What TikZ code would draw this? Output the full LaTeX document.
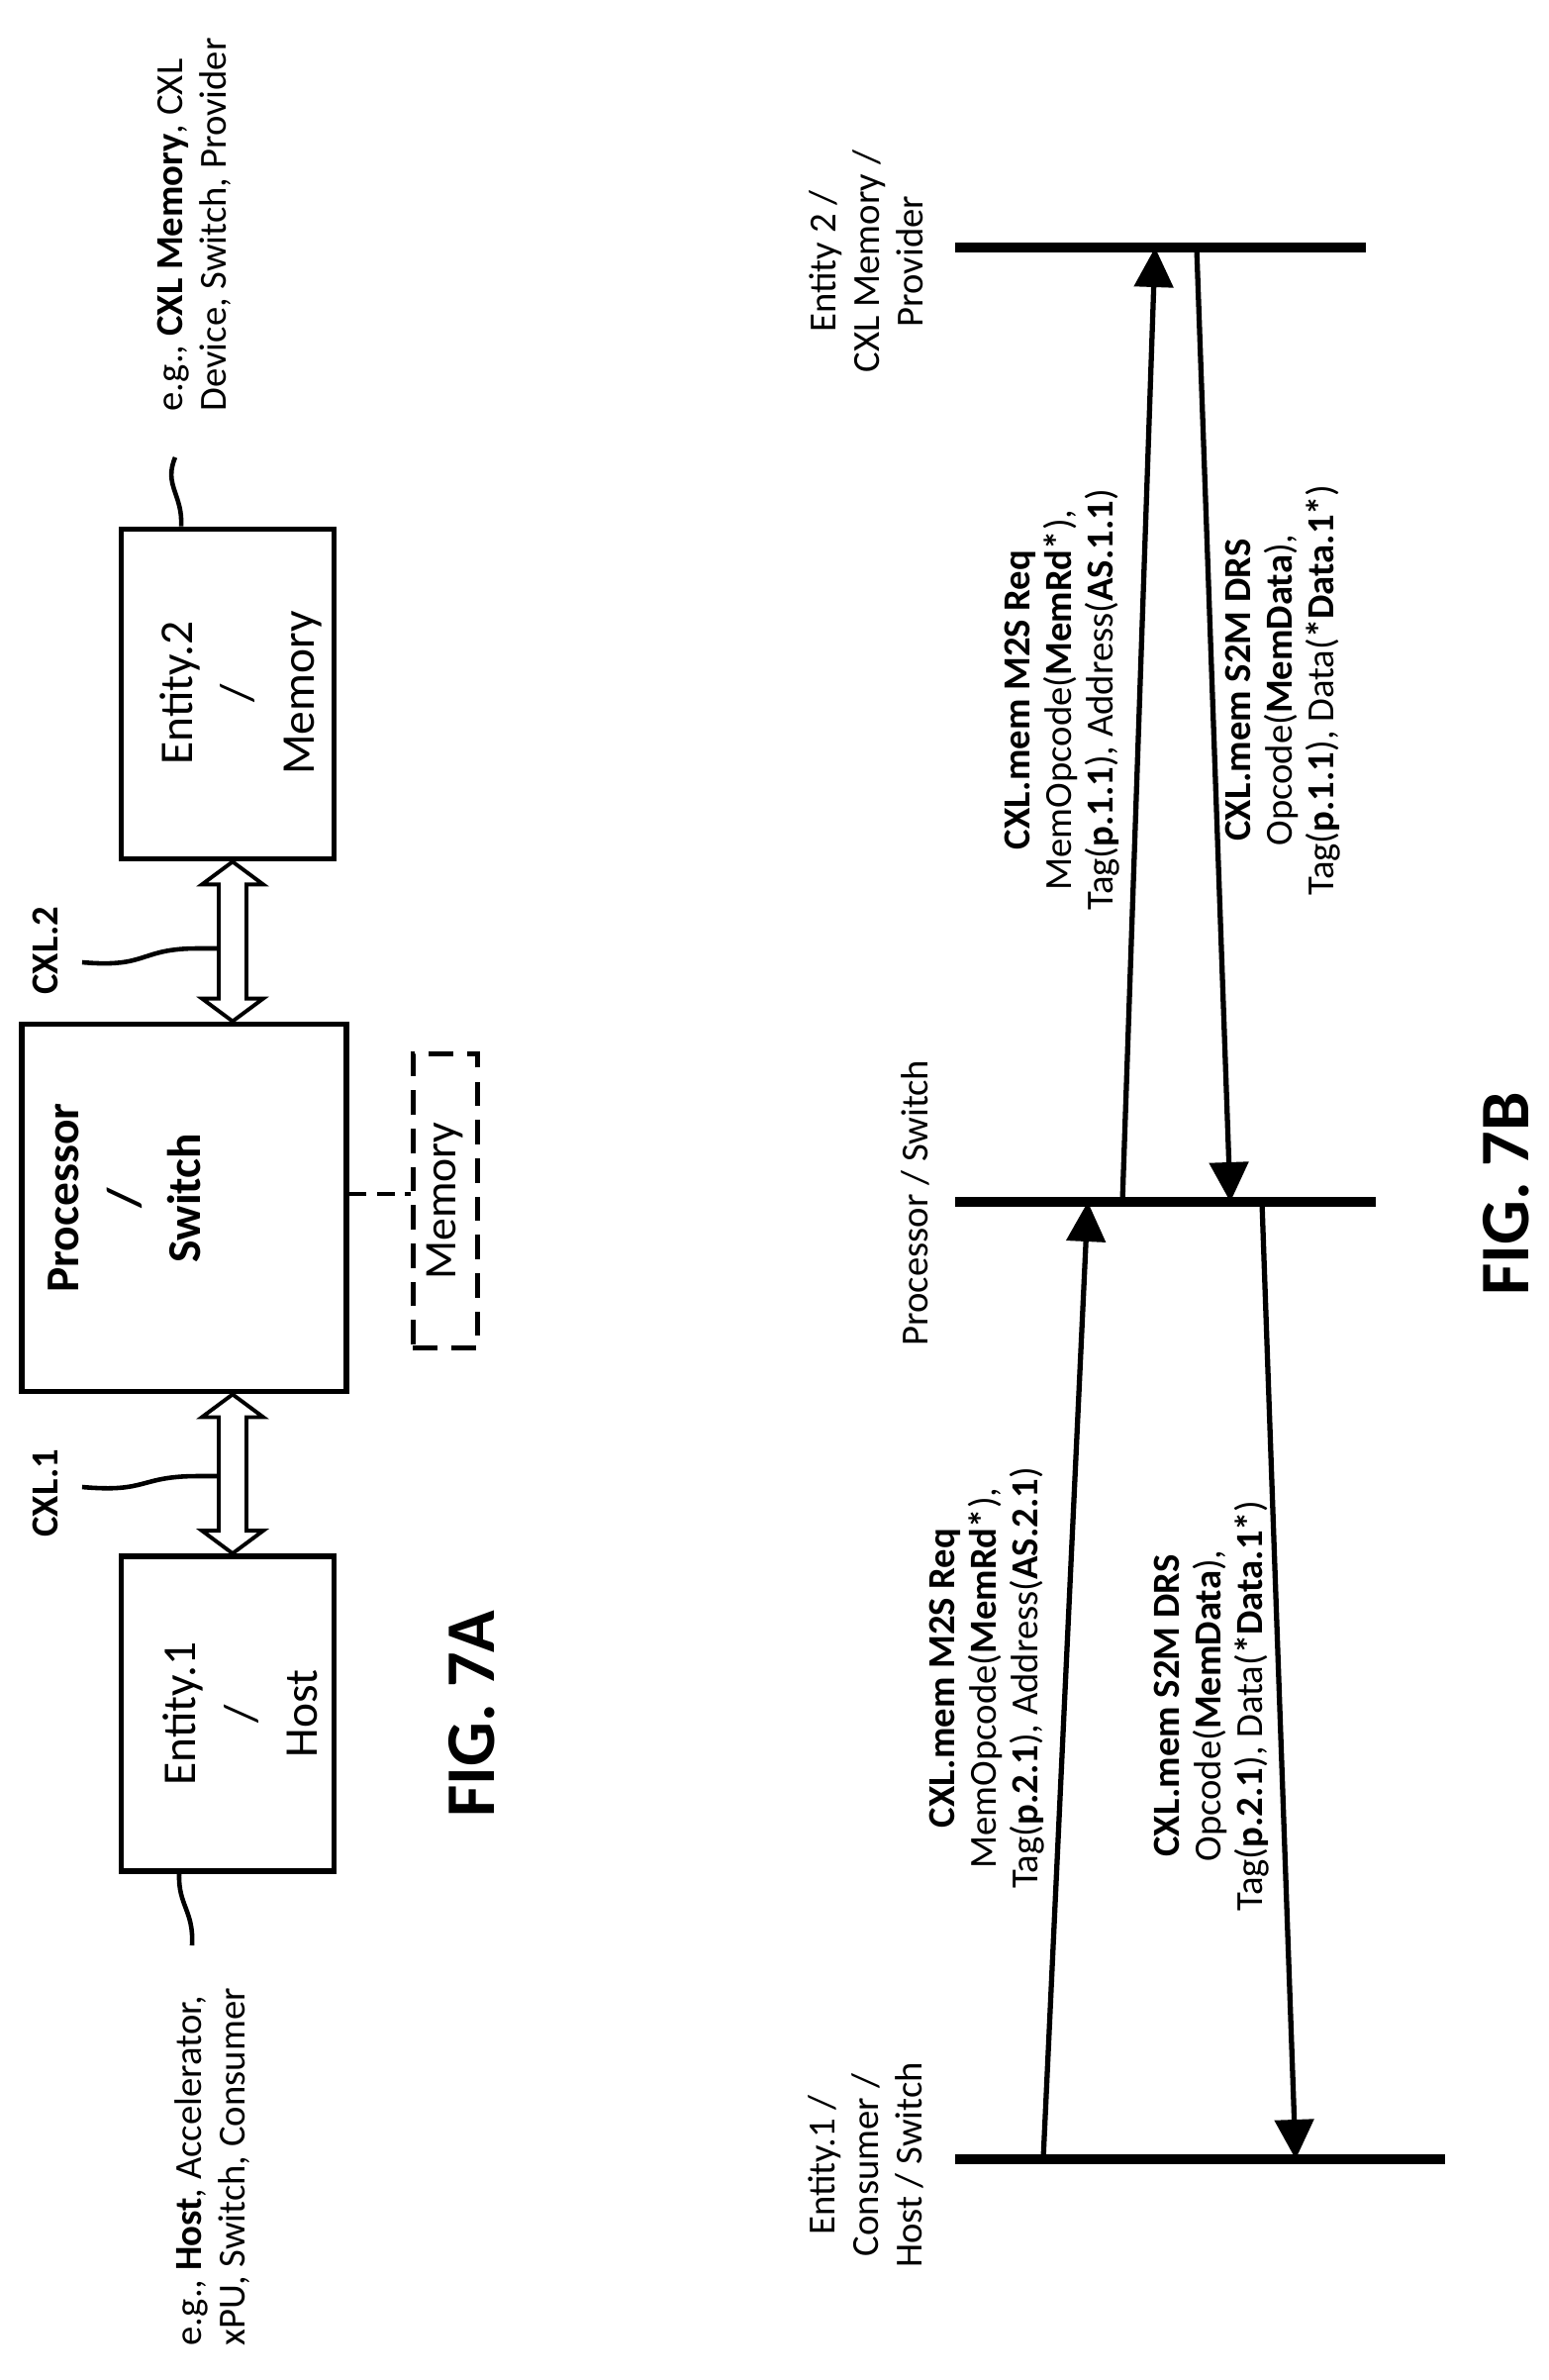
\documentclass[tikz,border=0pt]{standalone}
\usepackage{fontspec}
\setmainfont{Carlito}
\usetikzlibrary{arrows.meta, calc}

\begin{document}
\begin{tikzpicture}[x = 0.01cm, y = -0.01cm, % pixel grid, origin top left
                > = {Triangle[length=0.4cm, width=0.39cm]},
                box/.style = {draw = black, line width = 1.6pt, inner sep = 0pt},
                boxtxt/.style = {rotate = 90, align = center,
                    font = \fontsize{13.5}{17.5}\selectfont},
                txt/.style = {rotate = 90, align = center,
                    font = \fontsize{11}{12.5}\selectfont},
                msg/.style = {rotate = 90, align = center,
                    font = \fontsize{11}{12}\selectfont},
                fig/.style = {rotate = 90, font = \fontsize{20}{24}\bfseries},
                life/.style = {line width = 2.6pt},
                call/.style = {line width = 1.5pt, ->},
                wig/.style = {line width = 1.3pt}
            ]
            \useasboundingbox (0,0) rectangle (1564,2404);

            % FIG. 7A
            \node (ent2) [box, minimum width = 2.15cm, minimum height = 3.33cm] at (230,701) {};
            \node (proc) [box, minimum width = 3.28cm, minimum height = 3.71cm] at (186,1220) {};
            \node (ent1) [box, minimum width = 2.15cm, minimum height = 3.18cm] at (230,1731) {};
            \node (mem) [box, dash pattern = on 7pt off 4pt, minimum width = 0.65cm,
                minimum height = 2.97cm] at (450,1213) {};

            \node (ent2txt) [boxtxt] at (243,700) {Entity.2\\/\\Memory};
            \node (proctxt) [boxtxt, font = \fontsize{13.5}{17.5}\bfseries] at (126,1210) {Processor\\/\\Switch};
            \node (ent1txt) [boxtxt] at (243,1731) {Entity.1\\/\\Host};
            \node (memtxt) [txt, font = \fontsize{13}{15}\selectfont] at (450,1213) {Memory};

            \coordinate (dy) at (0,1206);
            \draw[wig, dash pattern = on 5pt off 3pt] (proc.east |- dy) -- (mem.west |- dy);

            % double arrows CXL.2 and CXL.1
            \coordinate (ax) at (235,0);
            \foreach \a/\b in {ent2/proc, proc/ent1} {
                \draw[line width = 1.1pt] (\a.south -| ax) coordinate (top)
                    -- ++(31,23) -- ++(-17,0)
                    -- ($(\b.north -| ax)+(14,-23)$) -- ++(17,0)
                    -- (\b.north -| ax) -- ++(-31,-23) -- ++(17,0)
                    -- ($(top)+(-14,23)$) -- ++(-17,0) -- cycle;
            }

            \node (cxl2) [txt, font = \fontsize{11}{13}\bfseries] at (46,960) {CXL.2};
            \node (cxl1) [txt, font = \fontsize{11}{13}\bfseries] at (46,1508) {CXL.1};
            \coordinate (w2) at (83,972);
            \coordinate (w1) at (83,1502);
            \draw[wig] (w2) .. controls (150,978) and (140,958) .. (200,958) -- (221,958);
            \draw[wig] (w1) .. controls (150,1508) and (140,1491) .. (200,1491) -- (221,1491);

            \node (note2) [txt, align = left, anchor = west] at (196,428)
                {e.g., \textbf{CXL Memory}, CXL\\Device, Switch, Provider};
            \node (note1) [txt, align = left, anchor = west] at (215,2382)
                {e.g., \textbf{Host}, Accelerator,\\xPU, Switch, Consumer};
            \coordinate (n2) at (177,462);
            \coordinate (n1) at (194,1965);
            \coordinate (e2x) at (183,0);
            \coordinate (e1x) at (181,0);
            \draw[wig] (ent2.north -| e2x) .. controls (185,500) and (165,490) .. (n2);
            \draw[wig] (ent1.south -| e1x) .. controls (180,1925) and (196,1930) .. (n1);

            \node (fig7a) [fig] at (477,1731) {FIG. 7A};

            % FIG. 7B
            \coordinate (l2a) at (965,250);   \coordinate (l2b) at (1380,250);
            \coordinate (lpa) at (965,1214);  \coordinate (lpb) at (1390,1214);
            \coordinate (l1a) at (965,2181);  \coordinate (l1b) at (1460,2181);
            \draw[life] (l2a) -- (l2b);
            \draw[life] (lpa) -- (lpb);
            \draw[life] (l1a) -- (l1b);

            \node (lab2) [txt] at (875,264) {Entity 2 /\\CXL Memory /\\Provider};
            \node (labp) [txt] at (925,1215) {Processor / Switch};
            \node (lab1) [txt] at (875,2187) {Entity.1 /\\Consumer /\\Host / Switch};

            \coordinate (a1) at (1054,2181); \coordinate (a2) at (1099,1214);
            \coordinate (b1) at (1134,1214); \coordinate (b2) at (1167,250);
            \coordinate (c1) at (1209,250);  \coordinate (c2) at (1243,1214);
            \coordinate (d1) at (1275,1214); \coordinate (d2) at (1309,2181);
            \draw[call] (a1) -- (a2);
            \draw[call] (b1) -- (b2);
            \draw[call] (c1) -- (c2);
            \draw[call] (d1) -- (d2);

            \node (req2) [msg] at (1073,707) {\textbf{CXL.mem M2S Req}\\MemOpcode(\textbf{MemRd*}),\\Tag(\textbf{p.1.1}), Address(\textbf{AS.1.1})};
            \node (drs2) [msg] at (1296,697) {\textbf{CXL.mem S2M DRS}\\Opcode(\textbf{MemData}),\\Tag(\textbf{p.1.1}), Data(\textbf{*Data.1*})};
            \node (req1) [msg] at (997,1695) {\textbf{CXL.mem M2S Req}\\MemOpcode(\textbf{MemRd*}),\\Tag(\textbf{p.2.1}), Address(\textbf{AS.2.1})};
            \node (drs1) [msg] at (1224,1723) {\textbf{CXL.mem S2M DRS}\\Opcode(\textbf{MemData}),\\Tag(\textbf{p.2.1}), Data(\textbf{*Data.1*})};

            \node (fig7b) [fig] at (1522,1206) {FIG. 7B};
        \end{tikzpicture}
\end{document}
